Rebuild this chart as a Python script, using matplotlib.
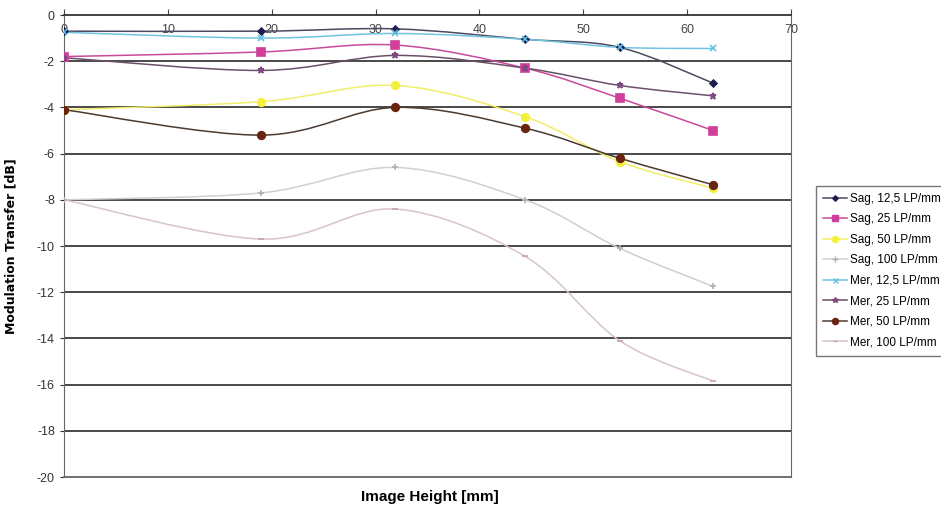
import matplotlib
matplotlib.use("Agg")
import matplotlib.pyplot as plt
from matplotlib.path import Path
from matplotlib.patches import PathPatch
from matplotlib.lines import Line2D

plt.rcParams['font.family'] = ['Liberation Sans', 'DejaVu Sans']
plt.rcParams['axes.unicode_minus'] = False

# image height [mm]
height = [0, 19, 31.9, 44.4, 53.5, 62.5]

sag_12 = [-0.7, -0.7, -0.6, -1.05, -1.4, -2.95]
sag_25 = [-1.8, -1.6, -1.3, -2.3, -3.6, -5.0]
sag_50 = [-4.1, -3.75, -3.05, -4.4, -6.35, -7.5]
sag_100 = [-8.0, -7.7, -6.6, -8.0, -10.1, -11.75]
mer_12 = [-0.75, -1.0, -0.8, -1.05, -1.4, -1.45]
mer_25 = [-1.85, -2.4, -1.75, -2.3, -3.05, -3.5]
mer_50 = [-4.1, -5.2, -4.0, -4.9, -6.2, -7.35]
mer_100 = [-8.0, -9.7, -8.4, -10.45, -14.1, -15.85]

labels = ["Sag, 12,5 LP/mm", "Sag, 25 LP/mm", "Sag, 50 LP/mm", "Sag, 100 LP/mm",
          "Mer, 12,5 LP/mm", "Mer, 25 LP/mm", "Mer, 50 LP/mm", "Mer, 100 LP/mm"]
series = [sag_12, sag_25, sag_50, sag_100, mer_12, mer_25, mer_50, mer_100]

# (line colour, marker colour, marker, size)
styles = [
    ("#4a4a60", "#1c1c50", "D", 3.5),
    ("#c84a9a", "#d0409a", "s", 5.5),
    ("#f2ee6a", "#f5f040", "o", 5.5),
    ("#cfcfcf", "#b0b0b0", "+", 5),
    ("#70c4e0", "#60c0e0", "x", 4.5),
    ("#6a5068", "#804880", "*", 5),
    ("#4a3a30", "#6a2410", "o", 5.5),
    ("#d8c4cc", "#c8a0b0", "_", 4),
]


def smooth_path(xs, ys):
    # excel-like smoothed line: bezier through each point
    verts = [(xs[0], ys[0])]
    codes = [Path.MOVETO]
    n = len(xs)
    for i in range(n - 1):
        x0, y0 = xs[max(i - 1, 0)], ys[max(i - 1, 0)]
        x1, y1 = xs[i], ys[i]
        x2, y2 = xs[i + 1], ys[i + 1]
        x3, y3 = xs[min(i + 2, n - 1)], ys[min(i + 2, n - 1)]
        c1 = (x1 + (x2 - x0) / 6, y1 + (y2 - y0) / 6)
        c2 = (x2 - (x3 - x1) / 6, y2 - (y3 - y1) / 6)
        verts += [c1, c2, (x2, y2)]
        codes += [Path.CURVE4] * 3
    return Path(verts, codes)


fig = plt.figure(figsize=(9.41, 5.11), dpi=100)
ax = fig.add_axes([64 / 941, 1 - 477 / 511, (791 - 64) / 941, (477 - 15) / 511])

for yv in range(-18, 0, 2):
    ax.axhline(yv, color="#3a3a3a", lw=1.3, zorder=1)

handles = []
for vals, lab, (lc, mc, mk, ms) in zip(series, labels, styles):
    ax.add_patch(PathPatch(smooth_path(height, vals), fill=False, edgecolor=lc,
                           lw=1.1, zorder=2))
    ax.plot(height, vals, ls="none", marker=mk, color=mc, ms=ms, mew=1.2, zorder=3)
    handles.append(Line2D([], [], color=lc, lw=1.1, marker=mk, markerfacecolor=mc,
                          markeredgecolor=mc, ms=ms * 0.8, label=lab))

ax.set_xlim(0, 70)
ax.set_ylim(-20, 0)
ax.set_xticks(range(0, 71, 10))
ax.set_yticks(range(-20, 1, 2))
ax.xaxis.tick_top()
ax.tick_params(axis="x", direction="out", length=4, pad=-19, labelsize=9,
               colors="#444444")
ax.tick_params(axis="y", direction="out", length=3, labelsize=9, colors="#333333")
for sp in ["left", "right", "bottom"]:
    ax.spines[sp].set_color("#666666")
ax.spines["top"].set_color("#333333")
ax.spines["top"].set_linewidth(1.3)
ax.spines["bottom"].set_linewidth(1.3)

ax.set_ylabel("Modulation Transfer [dB]", family="DejaVu Sans", fontsize=9,
              fontweight="bold", labelpad=14)
fig.text(430 / 941, 1 - 497 / 511, "Image Height [mm]", ha="center", va="center",
         fontsize=11, fontweight="bold")

fig.legend(handles=handles, loc="upper left", bbox_to_anchor=(810 / 941, 1 - 180 / 511),
           frameon=True, fancybox=False, edgecolor="#555555", fontsize=8.5,
           handlelength=2.0, handletextpad=0.3, labelspacing=0.72, borderpad=0.6)

fig.savefig("out.png", dpi=100)
